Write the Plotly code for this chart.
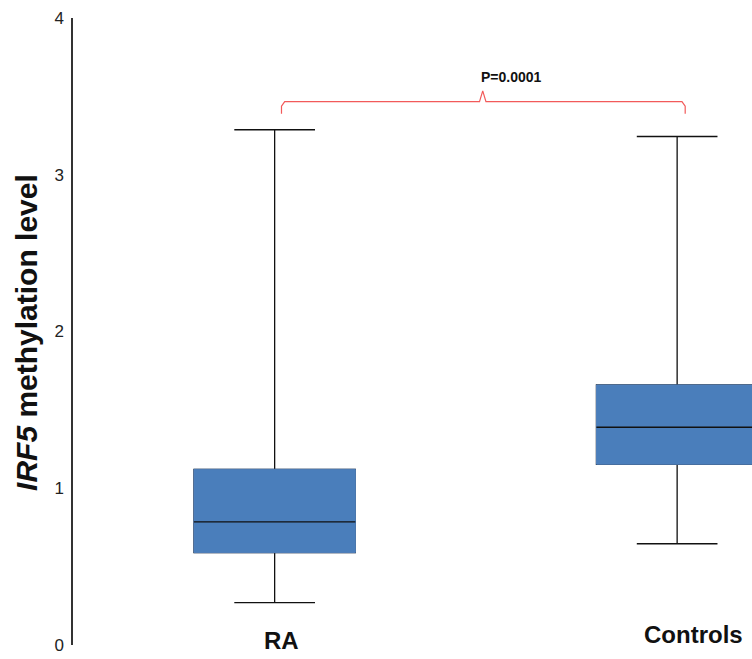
import plotly.graph_objects as go

# ---- data ----
groups = ["RA", "Controls"]
positions = [0, 1]
q1 = [0.589, 1.153]
median = [0.785, 1.389]
q3 = [1.121, 1.659]
lower_whisker = [0.270, 0.646]
upper_whisker = [3.287, 3.244]
y_ticks = [0, 1, 2, 3, 4]
p_label = "P=0.0001"

# ---- style ----
FONT = "Liberation Sans, Arial, sans-serif"
BOX_FILL = "#4A7EBB"
BOX_EDGE = "#5383BE"
BOX_W = 0.401
BRACKET_COLOR = "#F25A5A"

fig = go.Figure()

# whiskers / caps / median via the library's box trace
fig.add_trace(go.Box(
    x=positions, q1=q1, median=median, q3=q3,
    lowerfence=lower_whisker, upperfence=upper_whisker,
    width=BOX_W, whiskerwidth=0.5,
    fillcolor=BOX_FILL, line=dict(color="#111111", width=1.3),
    boxpoints=False, hoverinfo="skip", showlegend=False,
))

# blue box bodies with a soft blue edge (drawn over the black box outline)
rx, ry = [], []
for p, a, b in zip(positions, q1, q3):
    l, r = p - BOX_W / 2, p + BOX_W / 2
    rx += [l, r, r, l, l, None]
    ry += [a, a, b, b, a, None]
fig.add_trace(go.Scatter(
    x=rx, y=ry, mode="lines", fill="toself", fillcolor=BOX_FILL,
    line=dict(color=BOX_EDGE, width=1), hoverinfo="skip", showlegend=False,
))

# median lines
mx, my = [], []
for p, m in zip(positions, median):
    mx += [p - BOX_W / 2, p + BOX_W / 2, None]
    my += [m, m, None]
fig.add_trace(go.Scatter(
    x=mx, y=my, mode="lines", line=dict(color="#111111", width=1.3),
    hoverinfo="skip", showlegend=False,
))

# significance bracket
bl, br, bc = 0.017, 1.02, 0.517
b_end, b_top, b_peak = 3.389, 3.467, 3.535
bx = [bl, bl, bl + 0.008, bc - 0.008, bc, bc + 0.008, br - 0.008, br, br]
by = [b_end, b_top - 0.03, b_top, b_top, b_peak, b_top, b_top, b_top - 0.03, b_end]
fig.add_trace(go.Scatter(
    x=bx, y=by, mode="lines", line=dict(color=BRACKET_COLOR, width=1.2),
    hoverinfo="skip", showlegend=False,
))

label_dx = [0.016, 0.04]
label_y = [0.026, 0.067]
annotations = [
    dict(x=0.589, y=3.623, xref="x", yref="y", text="<b>" + p_label + "</b>",
         showarrow=False, font=dict(family=FONT, size=14, color="#111111")),
    dict(x=-0.0695, y=0.499, xref="paper", yref="paper",
         xanchor="center", yanchor="middle",
         text="<b><i>IRF5</i> methylation level</b>", textangle=-90,
         showarrow=False, font=dict(family=FONT, size=30, color="#111111")),
]
for g, p, dx, ly in zip(groups, positions, label_dx, label_y):
    annotations.append(dict(
        x=p + dx, y=ly, xref="x", yref="y", xanchor="center", yanchor="middle",
        text="<b>" + g + "</b>", showarrow=False,
        font=dict(family=FONT, size=24, color="#111111")))

fig.update_layout(
    width=752, height=659,
    margin=dict(l=73, r=0, t=18, b=14),
    paper_bgcolor="white", plot_bgcolor="white",
    showlegend=False,
    annotations=annotations,
    xaxis=dict(visible=False, range=[-0.501, 1.186], showgrid=False, zeroline=False),
    yaxis=dict(
        range=[0, 4], tickvals=y_ticks, ticktext=[str(t) for t in y_ticks],
        showline=True, linecolor="#333333", linewidth=1.5, ticks="",
        showgrid=False, zeroline=False, ticklabelstandoff=4, automargin=False,
        tickfont=dict(family=FONT, size=17, color="#222222"),
    ),
)

fig.write_html("out.html", config={"displayModeBar": False},
               post_script="document.body.style.margin='0';document.body.style.overflow='hidden';")
